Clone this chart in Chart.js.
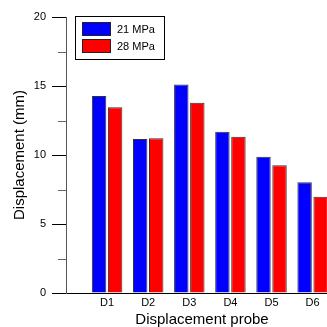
<!DOCTYPE html>
<html>
<head>
<meta charset="utf-8">
<script src="https://cdn.jsdelivr.net/npm/chart.js@4.4.1/dist/chart.umd.min.js"></script>
<style>
html,body{margin:0;padding:0;background:#fff;}
#wrap{width:327px;height:327px;}
</style>
</head>
<body>
<div id="wrap"><canvas id="c" width="327" height="327"></canvas></div>
<script>
const categories = ['D1', 'D2', 'D3', 'D4', 'D5', 'D6'];
const series21 = [14.28, 11.16, 15.10, 11.69, 9.88, 8.02];
const series28 = [13.46, 11.21, 13.79, 11.33, 9.25, 6.98];
const seriesLabels = ['21 MPa', '28 MPa'];
const yTicks = [0, 5, 10, 15, 20];
const xTitle = 'Displacement probe';
const yTitle = 'Displacement (mm)';

const FONT = 'Arial, "Liberation Sans", sans-serif';

const toPoints = arr => arr.map((v, i) => ({x: i + 1, y: v}));

const overlay = {
  id: 'overlay',
  afterDraw(chart) {
    const ctx = chart.ctx;
    const y = chart.scales.y;
    // minor ticks
    ctx.save();
    ctx.strokeStyle = '#666';
    ctx.lineWidth = 1;
    for (let i = 0; i < yTicks.length - 1; i++) {
      const v = (yTicks[i] + yTicks[i + 1]) / 2;
      const py = Math.round(y.getPixelForValue(v)) + 0.5;
      ctx.beginPath();
      ctx.moveTo(y.right - 8, py);
      ctx.lineTo(y.right, py);
      ctx.stroke();
    }
    // x title
    ctx.fillStyle = '#000';
    ctx.font = '15px ' + FONT;
    ctx.textAlign = 'center';
    ctx.textBaseline = 'middle';
    ctx.fillText(xTitle, 202, 320);
    // legend
    ctx.strokeStyle = '#000';
    ctx.lineWidth = 1;
    ctx.fillStyle = '#fff';
    ctx.fillRect(75.5, 16.5, 89, 43);
    ctx.strokeRect(75.5, 16.5, 89, 43);
    chart.data.datasets.forEach((ds, i) => {
      const top = 22 + i * 17;
      ctx.fillStyle = ds.backgroundColor;
      ctx.fillRect(82, top, 29, 14);
      ctx.strokeStyle = '#222';
      ctx.strokeRect(82.5, top + 0.5, 28, 13);
      ctx.fillStyle = '#000';
      ctx.font = '11px ' + FONT;
      ctx.textAlign = 'left';
      ctx.textBaseline = 'middle';
      ctx.fillText(ds.label, 117, top + 7.5);
    });
    ctx.restore();
  }
};

new Chart(document.getElementById('c'), {
  type: 'bar',
  data: {
    datasets: [
      {label: seriesLabels[0], data: toPoints(series21), backgroundColor: '#0000ff', borderColor: '#333', borderWidth: 1},
      {label: seriesLabels[1], data: toPoints(series28), backgroundColor: '#ff0000', borderColor: '#333', borderWidth: 1}
    ]
  },
  options: {
    responsive: false,
    animation: false,
    devicePixelRatio: 1,
    layout: {padding: {top: 17, left: 0, right: 0, bottom: 0}},
    categoryPercentage: 0.78,
    barPercentage: 0.9,
    plugins: {legend: {display: false}, tooltip: {enabled: false}},
    scales: {
      x: {
        type: 'linear',
        offset: false,
        min: 0,
        max: 6.35,
        afterBuildTicks(scale) { scale.ticks = categories.map((c, i) => ({value: i + 1})); },
        afterFit(scale) { scale.height = 34; },
        ticks: {
          autoSkip: false,
          maxRotation: 0,
          padding: 3,
          color: '#000',
          font: {family: FONT, size: 11},
          callback: v => categories[v - 1] || ''
        },
        grid: {display: true, offset: false, drawOnChartArea: false, drawTicks: false},
        border: {display: true, color: '#000', width: 1}
      },
      y: {
        min: 0,
        max: 20,
        afterBuildTicks(scale) { scale.ticks = yTicks.map(v => ({value: v})); },
        afterFit(scale) { scale.width = 66; },
        ticks: {
          padding: 6,
          color: '#000',
          font: {family: FONT, size: 11}
        },
        grid: {drawOnChartArea: false, tickLength: 14, tickColor: '#000'},
        border: {display: true, color: '#555', width: 1},
        title: {display: true, text: yTitle, color: '#000', font: {family: FONT, size: 15}, padding: {top: 11, bottom: 0}}
      }
    }
  },
  plugins: [overlay]
});
</script>
</body>
</html>
